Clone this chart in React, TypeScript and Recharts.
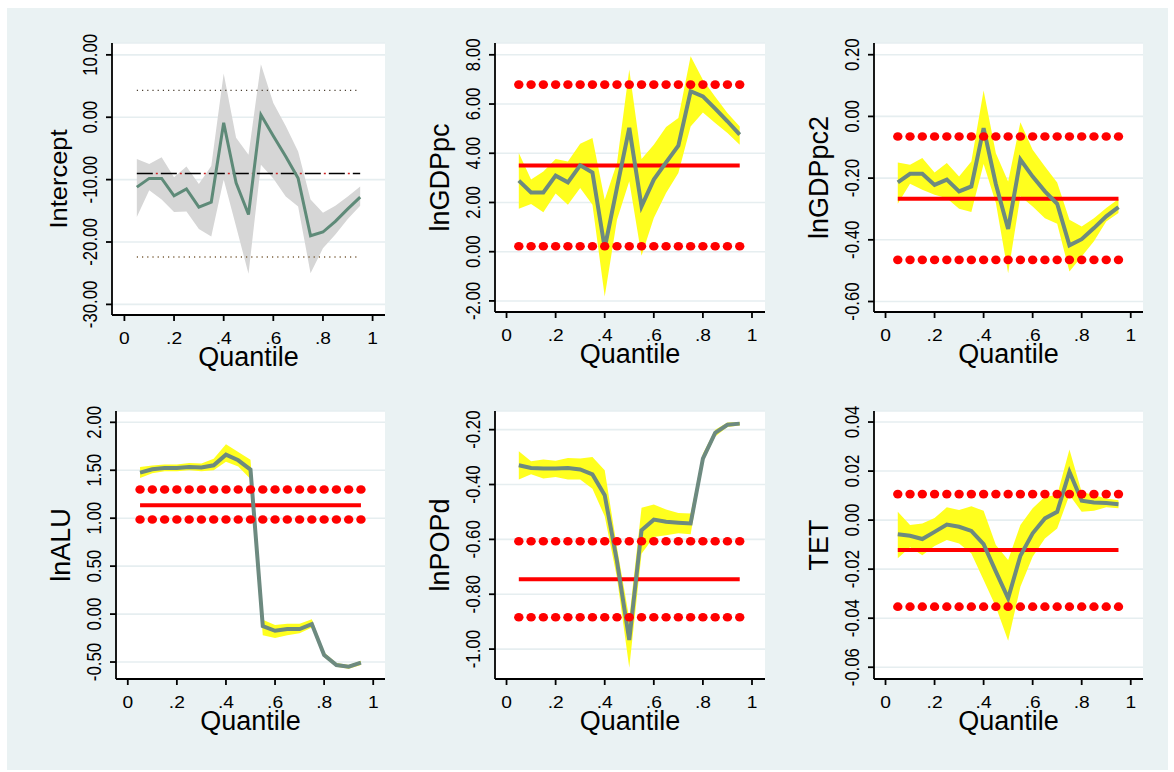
import React from 'react';
import { ComposedChart, Area, Line, XAxis, YAxis, CartesianGrid } from 'recharts';

const FONT = '"Liberation Sans", Arial, Helvetica, sans-serif';

const quantiles = [0.05, 0.1, 0.15, 0.2, 0.25, 0.3, 0.35, 0.4, 0.45, 0.5, 0.55, 0.6, 0.65, 0.7, 0.75, 0.8, 0.85, 0.9, 0.95];
const xTicks = [0, 0.2, 0.4, 0.6, 0.8, 1];
const xTickLabels = ['0', '.2', '.4', '.6', '.8', '1'];

// Intercept
const interceptCoef = [-11.2, -9.8, -9.8, -12.6, -11.5, -14.4, -13.6, -0.9, -10.5, -15.6, 0.4, -3.0, -6.3, -9.8, -19.0, -18.4, -16.7, -14.7, -12.8];
const interceptUpper = [-6.7, -7.5, -6.4, -9.6, -7.9, -10.7, -7.8, 7.0, -3.3, -6.0, 8.5, 2.3, -1.4, -5.5, -13.2, -15.3, -14.2, -12.7, -11.1];
const interceptLower = [-16.0, -11.7, -13.2, -15.2, -15.1, -17.9, -19.1, -10.0, -17.5, -25.1, -7.6, -9.8, -12.7, -14.3, -25.0, -21.0, -18.8, -16.3, -14.2];
const interceptOls = [-9.0, -22.4, 4.3];
const interceptTicks = [-30, -20, -10, 0, 10];

// lnGDPpc
const gdpCoef = [2.89, 2.41, 2.41, 3.09, 2.82, 3.51, 3.22, 0.15, 2.6, 5.03, 1.84, 2.93, 3.63, 4.31, 6.52, 6.31, 5.81, 5.3, 4.76];
const gdpUpper = [4.01, 2.93, 3.26, 3.77, 3.67, 4.39, 4.62, 2.11, 3.6, 7.4, 3.77, 4.35, 5.07, 5.43, 7.94, 6.99, 6.3, 5.64, 5.09];
const gdpLower = [1.75, 1.94, 1.6, 2.36, 1.91, 2.59, 1.91, -1.82, 1.3, 2.86, -0.16, 1.37, 2.39, 3.2, 5.09, 5.66, 5.23, 4.82, 4.35];
const gdpOls = [3.5, 0.22, 6.79];
const gdpTicks = [-2, 0, 2, 4, 6, 8];

// lnGDPpc2
const gdp2Coef = [-0.214, -0.186, -0.186, -0.222, -0.205, -0.243, -0.227, -0.038, -0.22, -0.365, -0.14, -0.195, -0.243, -0.283, -0.418, -0.398, -0.362, -0.324, -0.294];
const gdp2Upper = [-0.149, -0.157, -0.135, -0.182, -0.151, -0.195, -0.146, 0.084, -0.119, -0.211, -0.019, -0.108, -0.162, -0.214, -0.335, -0.357, -0.33, -0.297, -0.268];
const gdp2Lower = [-0.283, -0.218, -0.238, -0.254, -0.265, -0.299, -0.31, -0.154, -0.281, -0.508, -0.259, -0.292, -0.33, -0.348, -0.503, -0.454, -0.405, -0.341, -0.313];
const gdp2Ols = [-0.267, -0.465, -0.065];
const gdp2Ticks = [-0.6, -0.4, -0.2, 0, 0.2];

// lnALU
const aluCoef = [1.476, 1.51, 1.524, 1.524, 1.535, 1.528, 1.552, 1.663, 1.604, 1.507, -0.125, -0.174, -0.156, -0.156, -0.104, -0.427, -0.531, -0.549, -0.507];
const aluUpper = [1.535, 1.55, 1.56, 1.56, 1.575, 1.57, 1.62, 1.77, 1.69, 1.61, -0.06, -0.115, -0.1, -0.1, -0.055, -0.4, -0.51, -0.53, -0.49];
const aluLower = [1.42, 1.47, 1.49, 1.49, 1.5, 1.49, 1.5, 1.59, 1.54, 1.41, -0.22, -0.25, -0.22, -0.2, -0.14, -0.45, -0.55, -0.57, -0.53];
const aluOls = [1.135, 0.986, 1.3];
const aluTicks = [-0.5, 0, 0.5, 1, 1.5, 2];

// lnPOPd
const popCoef = [-0.33, -0.34, -0.342, -0.342, -0.34, -0.345, -0.363, -0.439, -0.68, -0.967, -0.567, -0.528, -0.536, -0.539, -0.542, -0.306, -0.212, -0.182, -0.178];
const popUpper = [-0.279, -0.315, -0.309, -0.313, -0.303, -0.305, -0.3, -0.348, -0.63, -0.888, -0.485, -0.473, -0.491, -0.504, -0.506, -0.288, -0.2, -0.174, -0.172];
const popLower = [-0.382, -0.363, -0.378, -0.373, -0.382, -0.382, -0.415, -0.516, -0.74, -1.068, -0.652, -0.591, -0.585, -0.578, -0.581, -0.319, -0.225, -0.19, -0.185];
const popOls = [-0.745, -0.884, -0.607];
const popTicks = [-1.0, -0.8, -0.6, -0.4, -0.2];

// TET
const tetCoef = [-0.0058, -0.0064, -0.0077, -0.0048, -0.0018, -0.0027, -0.0044, -0.0098, -0.021, -0.0319, -0.0145, -0.0054, 0.0007, 0.0034, 0.0197, 0.0079, 0.0072, 0.007, 0.0065];
const tetUpper = [0.0034, -0.002, -0.0014, 0.0009, 0.0052, 0.0041, 0.0057, 0.0038, -0.0102, -0.0163, -0.002, 0.0048, 0.0095, 0.0102, 0.0288, 0.0115, 0.0102, 0.0088, 0.0081];
const tetLower = [-0.0156, -0.0111, -0.0143, -0.0106, -0.0081, -0.0095, -0.0136, -0.0244, -0.0353, -0.0492, -0.0272, -0.0149, -0.0075, -0.0034, 0.0102, 0.0034, 0.0038, 0.0052, 0.0048];
const tetOls = [-0.0122, -0.0353, 0.0106];
const tetTicks = [-0.06, -0.04, -0.02, 0, 0.02, 0.04];

type PanelCfg = {
  title: string;
  coef: number[];
  upper: number[];
  lower: number[];
  ols: number[];
  ticks: number[];
  yDomain: [number, number];
  xDomain: [number, number];
  rect: { L: number; T: number; R: number; B: number };
  gray?: boolean;
  titleSize: number;
  titleScaleX: number;
};

const panels: PanelCfg[] = [
  { title: 'Intercept', coef: interceptCoef, upper: interceptUpper, lower: interceptLower, ols: interceptOls, ticks: interceptTicks, yDomain: [-31.7, 11.9], xDomain: [-0.05, 1.05], rect: { L: 112, T: 43, R: 385, B: 315 }, gray: true, titleSize: 25.5, titleScaleX: 0.95 },
  { title: 'lnGDPpc', coef: gdpCoef, upper: gdpUpper, lower: gdpLower, ols: gdpOls, ticks: gdpTicks, yDomain: [-2.45, 8.48], xDomain: [-0.047, 1.053], rect: { L: 495, T: 43, R: 765, B: 312 }, titleSize: 27, titleScaleX: 1 },
  { title: 'lnGDPpc2', coef: gdp2Coef, upper: gdp2Upper, lower: gdp2Lower, ols: gdp2Ols, ticks: gdp2Ticks, yDomain: [-0.634, 0.238], xDomain: [-0.047, 1.05], rect: { L: 874, T: 43, R: 1143, B: 312 }, titleSize: 27, titleScaleX: 1 },
  { title: 'lnALU', coef: aluCoef, upper: aluUpper, lower: aluLower, ols: aluOls, ticks: aluTicks, yDomain: [-0.677, 2.118], xDomain: [-0.048, 1.048], rect: { L: 116, T: 411, R: 385, B: 679 }, titleSize: 27, titleScaleX: 1 },
  { title: 'lnPOPd', coef: popCoef, upper: popUpper, lower: popLower, ols: popOls, ticks: popTicks, yDomain: [-1.109, -0.132], xDomain: [-0.047, 1.053], rect: { L: 495, T: 411, R: 765, B: 679 }, titleSize: 27, titleScaleX: 1 },
  { title: 'TET', coef: tetCoef, upper: tetUpper, lower: tetLower, ols: tetOls, ticks: tetTicks, yDomain: [-0.0648, 0.0445], xDomain: [-0.047, 1.05], rect: { L: 874, T: 411, R: 1143, B: 679 }, titleSize: 27, titleScaleX: 1 },
];

const Y_AXIS_W = 100;
const X_AXIS_H = 62;
const TOP_PAD = 24;

const YTick = (props: any) => {
  const { x, y, payload } = props;
  return (
    <text
      transform={`translate(${x - 7.5},${y}) scale(1.2,1) rotate(-90)`}
      textAnchor="middle"
      fontFamily={FONT}
      fontSize={16.8}
      fill="#000"
    >
      {Number(payload.value).toFixed(2)}
    </text>
  );
};

const XTick = (props: any) => {
  const { x, y, payload } = props;
  const idx = xTicks.indexOf(payload.value);
  return (
    <text
      transform={`translate(${x},${y + 20.5}) scale(1.2,1)`}
      textAnchor="middle"
      fontFamily={FONT}
      fontSize={16}
      fill="#000"
    >
      {idx >= 0 ? xTickLabels[idx] : String(payload.value)}
    </text>
  );
};

const makeYLabel = (text: string, size: number, sx: number) => (props: any) => {
  const vb = props.viewBox || {};
  const ax = vb.x + vb.width;
  const cy = vb.y + vb.height / 2;
  const base = ax - 40.3 - 0.21 * size * sx;
  return (
    <text transform={`translate(${base},${cy}) scale(${sx},1) rotate(-90)`} textAnchor="middle" fontFamily={FONT} fontSize={size} fill="#000">
      {text}
    </text>
  );
};

const XLabel = (props: any) => {
  const vb = props.viewBox || {};
  return (
    <text x={vb.x + vb.width / 2} y={vb.y + 50.5} textAnchor="middle" fontFamily={FONT} fontSize={27} fill="#000">
      Quantile
    </text>
  );
};

const RedDot = (props: any) => {
  const { cx, cy, index } = props;
  if (cx == null || cy == null) return <g key={`e-${index}`} />;
  return <ellipse key={`d-${index}`} cx={cx} cy={cy} rx={4.7} ry={4.3} fill="#ff0000" />;
};

const Panel = ({ cfg }: { cfg: PanelCfg }) => {
  const { L, T, R, B } = cfg.rect;
  const width = R - L + Y_AXIS_W + 2;
  const height = B - T + X_AXIS_H + TOP_PAD;
  const data = quantiles.map((q, i) => ({
    q,
    coef: cfg.coef[i],
    band: [cfg.lower[i], cfg.upper[i]],
    ols: cfg.ols[0],
    ciLo: cfg.ols[1],
    ciHi: cfg.ols[2],
  }));
  return (
    <div style={{ position: 'absolute', left: L - Y_AXIS_W, top: T - TOP_PAD, width, height }}>
      <ComposedChart width={width} height={height} data={data} margin={{ top: TOP_PAD, right: 2, bottom: 0, left: 0 }}>
        <CartesianGrid vertical={false} horizontal={true} fill="#ffffff" stroke="#e6eef0" strokeWidth={1.6} />
        <XAxis
          dataKey="q"
          type="number"
          domain={cfg.xDomain}
          allowDataOverflow
          ticks={xTicks}
          tick={<XTick />}
          tickSize={6}
          tickMargin={2}
          height={X_AXIS_H}
          stroke="#000"
          strokeWidth={1.8}
          tickLine={{ stroke: '#000', strokeWidth: 1.8 }}
          label={XLabel}
        />
        <YAxis
          type="number"
          domain={cfg.yDomain}
          allowDataOverflow
          ticks={cfg.ticks}
          interval={0}
          tick={<YTick />}
          tickSize={6}
          tickMargin={2}
          width={Y_AXIS_W}
          stroke="#000"
          strokeWidth={1.8}
          tickLine={{ stroke: '#000', strokeWidth: 1.8 }}
          label={makeYLabel(cfg.title, cfg.titleSize, cfg.titleScaleX)}
        />
        <Area
          dataKey="band"
          type="linear"
          fill={cfg.gray ? '#d6d6d6' : '#ffff1e'}
          fillOpacity={1}
          stroke="none"
          isAnimationActive={false}
          activeDot={false}
        />
        {cfg.gray ? (
          <>
            <Line dataKey="ciHi" type="linear" stroke="#4a3e30" strokeWidth={1.4} strokeDasharray="1.2 4" dot={false} activeDot={false} isAnimationActive={false} />
            <Line dataKey="ciLo" type="linear" stroke="#7a5e3a" strokeWidth={1.4} strokeDasharray="1.2 4" dot={false} activeDot={false} isAnimationActive={false} />
            <Line dataKey="ols" type="linear" stroke="#000000" strokeWidth={1.5} strokeDasharray="16 8" dot={false} activeDot={false} isAnimationActive={false} />
            <Line dataKey="ols" type="linear" stroke="#cc2222" strokeWidth={1.5} strokeDasharray="2 22" strokeDashoffset={-19} dot={false} activeDot={false} isAnimationActive={false} />
          </>
        ) : (
          <>
            <Line dataKey="ols" type="linear" stroke="#ff0000" strokeWidth={4} dot={false} activeDot={false} isAnimationActive={false} />
            <Line dataKey="ciHi" type="linear" stroke="none" dot={RedDot} activeDot={false} isAnimationActive={false} />
            <Line dataKey="ciLo" type="linear" stroke="none" dot={RedDot} activeDot={false} isAnimationActive={false} />
          </>
        )}
        <Line
          dataKey="coef"
          type="linear"
          stroke={cfg.gray ? '#5e8a78' : '#6d8a80'}
          strokeWidth={cfg.gray ? 3 : 4}
          dot={false}
          activeDot={false}
          isAnimationActive={false}
        />
      </ComposedChart>
    </div>
  );
}

export default function App() {
  return (
    <div style={{ position: 'absolute', left: 0, top: 0, width: 1174, height: 772, background: '#ffffff', overflow: 'hidden' }}>
      <div style={{ position: 'absolute', left: 7, top: 8, width: 1161, height: 762, background: '#eaf2f3' }} />
      {panels.map((p) => (
        <Panel key={p.title} cfg={p} />
      ))}
    </div>
  );
}
